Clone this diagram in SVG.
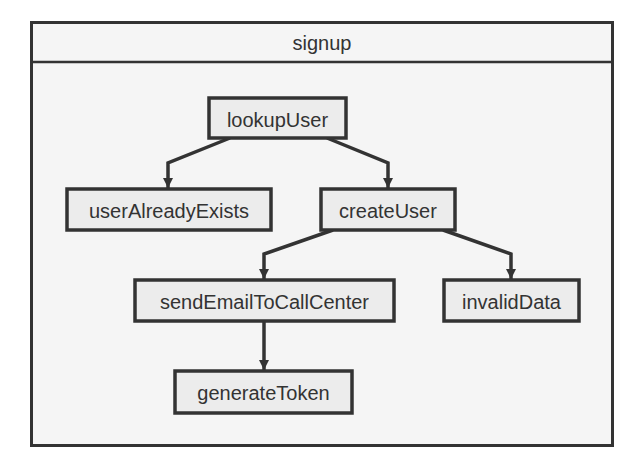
<svg xmlns="http://www.w3.org/2000/svg" width="638" height="474" viewBox="0 0 638 474">
<defs>
<style>
.node rect{fill:#ececec;stroke:#333;stroke-width:3.5}
text{font-family:"Liberation Sans",Arial,sans-serif;font-size:20px;fill:#333;text-anchor:middle}
.edge{fill:none;stroke:#333;stroke-width:3.5;stroke-linejoin:miter}
</style>
<marker id="ah" viewBox="0 0 10 10" refX="10" refY="5" markerWidth="3" markerHeight="3" orient="auto" markerUnits="strokeWidth">
<path d="M0,0 L10,5 L0,10 z" fill="#333"/>
</marker>
</defs>
<rect width="638" height="474" fill="#ffffff"/>
<g id="signup">
<rect x="31.5" y="22.5" width="581" height="423" fill="#f5f5f5" stroke="#333" stroke-width="3"/>
<line x1="31.5" y1="62" x2="612.5" y2="62" stroke="#333" stroke-width="2.5"/>
<text x="322" y="50">signup</text>
</g>
<g id="connectors">
<path class="edge" d="M230,138 L168,163 L168,188" marker-end="url(#ah)"/>
<path class="edge" d="M327,138 L388,163 L388,188" marker-end="url(#ah)"/>
<path class="edge" d="M333,230 L264,254 L264,279" marker-end="url(#ah)"/>
<path class="edge" d="M443,230 L511,254 L511,279" marker-end="url(#ah)"/>
<path class="edge" d="M264,321 L264,370" marker-end="url(#ah)"/>
</g>
<g id="lookupUser" class="node">
<rect x="209" y="98" width="137" height="40"/>
<text x="277.5" y="126.5">lookupUser</text>
</g>
<g id="userAlreadyExists" class="node">
<rect x="67" y="189" width="204" height="41"/>
<text x="169" y="217.5">userAlreadyExists</text>
</g>
<g id="createUser" class="node">
<rect x="321" y="189" width="134" height="41"/>
<text x="388" y="217.5">createUser</text>
</g>
<g id="sendEmailToCallCenter" class="node">
<rect x="135" y="280" width="259" height="41"/>
<text x="264.5" y="308.5">sendEmailToCallCenter</text>
</g>
<g id="invalidData" class="node">
<rect x="444" y="280" width="135" height="41"/>
<text x="511.5" y="308.5">invalidData</text>
</g>
<g id="generateToken" class="node">
<rect x="175" y="371" width="177" height="42"/>
<text x="263.5" y="399.5">generateToken</text>
</g>
</svg>
